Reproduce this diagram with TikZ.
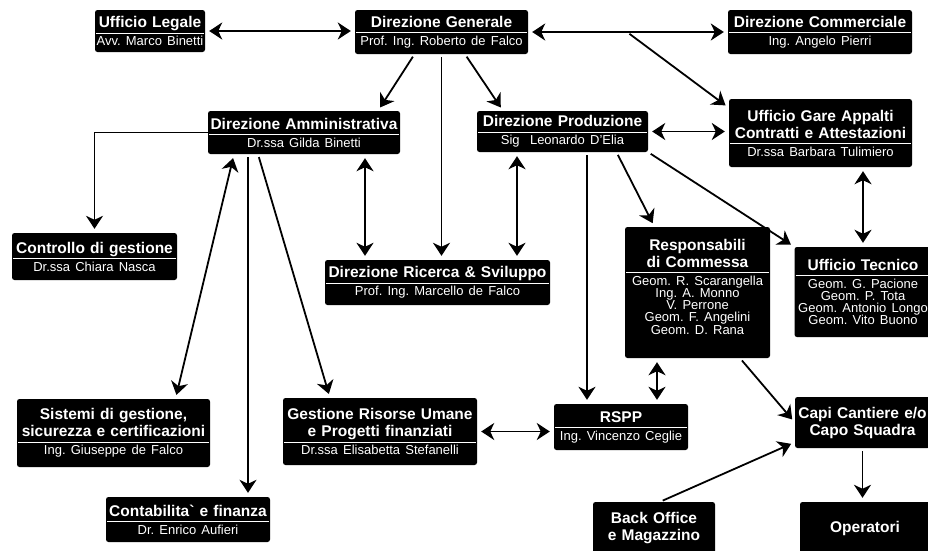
\documentclass[tikz,border=0pt]{standalone}
\usepackage{fontspec}
\setmainfont{Liberation Sans}
\usetikzlibrary{arrows.meta}

\newcommand{\titolo}{\fontsize{15.5}{17}\selectfont\bfseries\frenchspacing}
\newcommand{\nome}{\fontsize{13}{12.2}\selectfont\mdseries\frenchspacing}
\newcommand{\ente}[2]{#1\rule[-3.5pt]{0pt}{0pt}\par\vspace{1.5pt}\hrule height 1pt\vspace{2pt}{\nome\rule{0pt}{10pt}#2\par}}

\tikzset{
  ente/.style={fill=black, text=white, rounded corners=2.5pt, align=center, inner xsep=1pt, inner ysep=2pt, font=\titolo},
  freccia/.style={line width=1.8pt, -{Stealth[length=13pt,width=17pt,inset=4pt]}, shorten >=4pt, shorten <=3pt},
  doppia/.style={line width=1.8pt, {Stealth[length=13pt,width=17pt,inset=4pt]}-{Stealth[length=13pt,width=17pt,inset=4pt]}, shorten >=4pt, shorten <=4pt}
}

\begin{document}
\begin{tikzpicture}[x=1pt, y=-1pt]
\useasboundingbox (0,0) rectangle (928,550);

\node[ente, text width=108pt, minimum height=42pt] (legale) at (150,31) {\ente{Ufficio Legale}{Avv. Marco Binetti}};
\node[ente, text width=171pt, minimum height=44pt] (generale) at (441.5,32) {\ente{Direzione Generale}{Prof. Ing. Roberto de Falco}};
\node[ente, text width=182pt, minimum height=44pt] (commerciale) at (820,32) {\ente{Direzione Commerciale}{Ing. Angelo Pierri}};
\node[ente, text width=190pt, minimum height=43pt] (amministrativa) at (304,132.5) {\ente{Direzione Amministrativa}{Dr.ssa Gilda Binetti}};
\node[ente, text width=169pt, minimum height=41pt] (produzione) at (562.5,131.5) {\ente{Direzione Produzione}{Sig~~Leonardo D'Elia}};
\node[ente, text width=181pt, minimum height=68pt] (gare) at (820.5,133) {\ente{Ufficio Gare Appalti\\Contratti e Attestazioni}{Dr.ssa Barbara Tulimiero}};
\node[ente, text width=163pt, minimum height=47pt] (controllo) at (94.5,256.5) {\ente{Controllo di gestione}{Dr.ssa Chiara Nasca}};
\node[ente, text width=223pt, minimum height=45pt] (ricerca) at (437.5,282.5) {\ente{Direzione Ricerca \& Sviluppo}{Prof. Ing. Marcello de Falco}};
\node[ente, text width=143pt, minimum height=131pt] (responsabili) at (697.5,292.5) {\ente{Responsabili\\di Commessa}{Geom. R. Scarangella\\Ing. A. Monno\\V. Perrone\\Geom. F. Angelini\\Geom. D. Rana\rule[-12pt]{0pt}{0pt}}};
\node[ente, text width=135pt, minimum height=90pt] (tecnico) at (863,292) {\ente{Ufficio Tecnico}{Geom. G. Pacione\\Geom. P. Tota\\Geom. Antonio Longo\\Geom. Vito Buono}};
\node[ente, text width=191pt, minimum height=68pt] (sistemi) at (113.5,433) {\ente{Sistemi di gestione,\\sicurezza e certificazioni}{Ing. Giuseppe de Falco}};
\node[ente, text width=192pt, minimum height=67pt] (risorse) at (380,431.5) {\ente{Gestione Risorse Umane\\e Progetti finanziati}{Dr.ssa Elisabetta Stefanelli}};
\node[ente, text width=162pt, minimum height=45pt] (contabilita) at (188,519.5) {\ente{Contabilita\textasciigrave\ e finanza}{Dr. Enrico Aufieri}};
\node[ente, text width=132pt, minimum height=46pt] (rspp) at (621,427) {\ente{RSPP}{Ing. Vincenzo Ceglie}};
\node[ente, text width=133pt, minimum height=51pt] (capi) at (862.5,422.5) {Capi Cantiere e/o\\Capo Squadra};
\node[ente, text width=120pt, minimum height=52pt] (backoffice) at (654,528) {Back Office\\e Magazzino};
\node[ente, text width=128pt, minimum height=52pt] (operatori) at (865,528) {Operatori};

\coordinate (bivio) at (627,32);

% vertice
\draw[doppia] (legale) -- (legale -| generale.west);
\draw[doppia] (generale) -- (commerciale);
\draw[freccia] (bivio) -- ([yshift=-9pt]gare.north west);
\draw[freccia] ([xshift=-27pt]generale.south) -- ([xshift=74pt]amministrativa.north);
\draw[freccia] ([xshift=23.5pt]generale.south) -- ([xshift=-59.5pt]produzione.north);
\draw[freccia] (generale.south) -- (generale.south |- ricerca.north);

% produzione
\draw[doppia] (produzione.east) -- (produzione.east -| gare.west);
\draw[doppia] (tecnico.north) -- (tecnico.north |- gare.south);
\draw[freccia] (produzione.south east) -- (tecnico.north west);
\draw[freccia] ([xshift=54pt]produzione.south) -- ([xshift=-43pt]responsabili.north);
\draw[freccia] ([xshift=24.5pt]produzione.south) -- ([xshift=24.5pt]produzione.south |- rspp.north);
\draw[doppia] ([xshift=-45.5pt]produzione.south) -- ([xshift=-45.5pt]produzione.south |- ricerca.north);

% amministrativa
\draw[doppia] ([xshift=61pt]amministrativa.south) -- ([xshift=61pt]amministrativa.south |- ricerca.north);
\draw[freccia, line width=1.3pt, shorten <=0pt] (amministrativa.west) -| (controllo.north);
\draw[doppia] ([xshift=-70pt]amministrativa.south) -- ([xshift=62pt]sistemi.north);
\draw[freccia, line width=1.3pt] ([xshift=-56pt]amministrativa.south) -- ([xshift=-56pt]amministrativa.south |- contabilita.north);
\draw[freccia] ([xshift=-46pt]amministrativa.south) -- ([xshift=-50pt]risorse.north);

% cantiere
\draw[doppia] (risorse.east) -- (risorse.east -| rspp.west);
\draw[doppia] ([xshift=-40.5pt]responsabili.south) -- ([xshift=-40.5pt]responsabili.south |- rspp.north);
\draw[freccia] ([xshift=42.5pt]responsabili.south) -- (capi.west);
\draw[freccia] ([xshift=6pt]backoffice.north) -- ([yshift=6pt]capi.south west);
\draw[freccia] (capi.south) -- (capi.south |- operatori.north);

\end{tikzpicture}
\end{document}
